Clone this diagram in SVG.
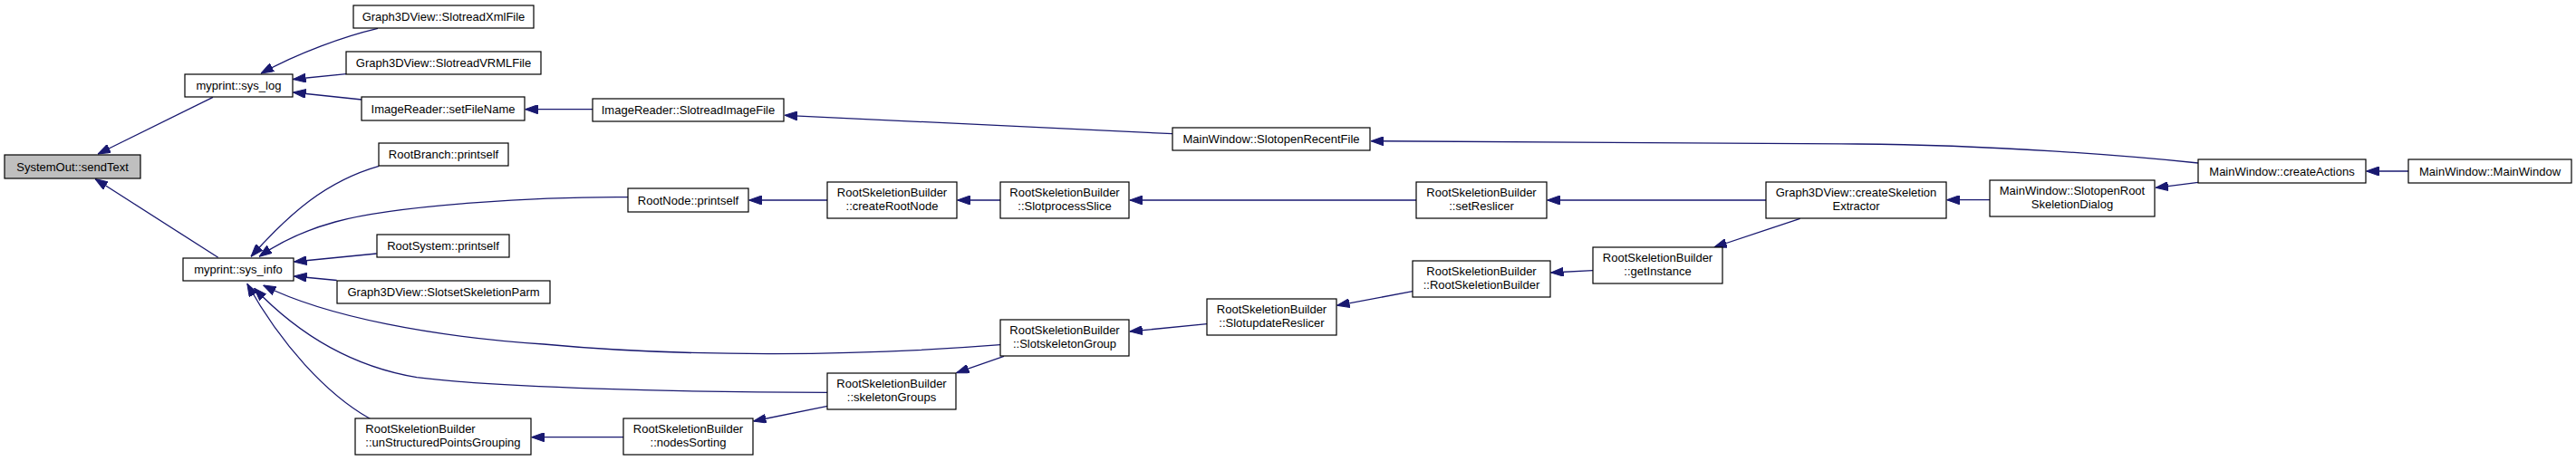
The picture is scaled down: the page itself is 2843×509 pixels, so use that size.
<svg xmlns="http://www.w3.org/2000/svg" width="2843" height="509" viewBox="0 0 2843 509">
<style>
.n rect{fill:#fff;stroke:#000;stroke-width:1.2}
.n.root rect{fill:#bfbfbf}
.n text{font-family:"Liberation Sans",Arial,sans-serif;font-size:13px;fill:#000;text-anchor:middle}
.n text.l{text-anchor:start}
#edges path{fill:none;stroke:#191970;stroke-width:1.3;marker-end:url(#ah)}
</style>
<defs>
<marker id="ah" viewBox="0 0 14 10" refX="14" refY="5" markerWidth="14" markerHeight="10" markerUnits="userSpaceOnUse" orient="auto">
<path d="M0,0 L14,5 L0,10 Z" fill="#191970" stroke="#191970" stroke-width="1"/>
</marker>
</defs>
<rect width="2843" height="509" fill="#fff"/>
<g id="edges">
<path d="M235,107.3 L108,170"/>
<path d="M240.7,284.3 L105,197.5"/>
<path d="M417,31.3 C380,40 330,58 288,81"/>
<path d="M382,81.7 L323.5,87.5"/>
<path d="M399.3,110 L323.5,102"/>
<path d="M654,120.7 L579.5,120.7"/>
<path d="M1294,147.7 L866,127.3"/>
<path d="M2426,180 C2350,172 2200,160 2050,159 L1513,155.7"/>
<path d="M2658,189 L2611.5,189"/>
<path d="M2426,201.3 L2379,207.3"/>
<path d="M2196,220.7 L2148.5,220.7"/>
<path d="M1949,221 L1707.5,221"/>
<path d="M1986.7,241.3 L1891.7,273"/>
<path d="M1758,298.7 L1711.5,301"/>
<path d="M1559,321.7 L1475.5,337.3"/>
<path d="M1332,357.7 L1246.8,366"/>
<path d="M1563,221 L1246.8,221"/>
<path d="M1104,221 L1056.5,221"/>
<path d="M913,221 L826.5,221"/>
<path d="M693,217.7 C600,217 440,226 370,245 C330,256 305,270 286,283.3"/>
<path d="M418.3,183.3 C360,200 320,235 277,283.3"/>
<path d="M415.7,280 L324.5,289"/>
<path d="M371.7,309.5 L324.5,305"/>
<path d="M1104,380.7 C950,393 760,395 600,380 C480,372 360,350 290.6,315"/>
<path d="M913,433.3 C750,433 550,428 460,416.7 C390,405 330,370 280.7,318.3"/>
<path d="M408.3,462.3 C360,435 310,380 272.8,313.3"/>
<path d="M688.3,482.7 L586.5,482.7"/>
<path d="M913.4,448.3 L831.5,465"/>
<path d="M1108,393.3 L1055.5,411.7"/>
</g>
<g id="n_sendText" class="n root"><rect x="5" y="171" width="150" height="26"/><text x="80" y="188.5">SystemOut::sendText</text></g>
<g id="n_sys_log" class="n"><rect x="204" y="82" width="119" height="25"/><text x="263.5" y="99">myprint::sys_log</text></g>
<g id="n_sys_info" class="n"><rect x="202" y="285" width="122" height="25"/><text x="263" y="302">myprint::sys_info</text></g>
<g id="n_readXml" class="n"><rect x="390" y="6" width="199" height="25"/><text x="489.5" y="23">Graph3DView::SlotreadXmlFile</text></g>
<g id="n_readVRML" class="n"><rect x="382" y="57" width="215" height="25"/><text x="489.5" y="74">Graph3DView::SlotreadVRMLFile</text></g>
<g id="n_setFileName" class="n"><rect x="399" y="107" width="180" height="26"/><text x="489" y="124.5">ImageReader::setFileName</text></g>
<g id="n_readImage" class="n"><rect x="654" y="109" width="211" height="25"/><text x="759.5" y="126">ImageReader::SlotreadImageFile</text></g>
<g id="n_branchPrint" class="n"><rect x="418" y="158" width="143" height="25"/><text x="489.5" y="175">RootBranch::printself</text></g>
<g id="n_nodePrint" class="n"><rect x="693" y="208" width="133" height="26"/><text x="759.5" y="225.5">RootNode::printself</text></g>
<g id="n_systemPrint" class="n"><rect x="416" y="259" width="146" height="25"/><text x="489" y="276">RootSystem::printself</text></g>
<g id="n_setParm" class="n"><rect x="372" y="310" width="235" height="25"/><text x="489.5" y="327">Graph3DView::SlotsetSkeletionParm</text></g>
<g id="n_unStructured" class="n"><rect x="392" y="462" width="194" height="40"/><text class="l" x="403.3" y="478">RootSkeletionBuilder</text><text class="l" x="403.3" y="492.8">::unStructuredPointsGrouping</text></g>
<g id="n_nodesSorting" class="n"><rect x="688" y="462" width="143" height="40"/><text x="759.5" y="478">RootSkeletionBuilder</text><text x="759.5" y="492.8">::nodesSorting</text></g>
<g id="n_skeletonGroups" class="n"><rect x="913" y="412" width="142" height="40"/><text x="984" y="428">RootSkeletionBuilder</text><text x="984" y="442.8">::skeletonGroups</text></g>
<g id="n_slotSkeletonGroup" class="n"><rect x="1104" y="353" width="142" height="40"/><text x="1175" y="369">RootSkeletionBuilder</text><text x="1175" y="383.8">::SlotskeletonGroup</text></g>
<g id="n_createRootNode" class="n"><rect x="913" y="201" width="143" height="40"/><text x="984.5" y="217">RootSkeletionBuilder</text><text x="984.5" y="231.8">::createRootNode</text></g>
<g id="n_processSlice" class="n"><rect x="1104" y="201" width="142" height="40"/><text x="1175" y="217">RootSkeletionBuilder</text><text x="1175" y="231.8">::SlotprocessSlice</text></g>
<g id="n_openRecent" class="n"><rect x="1294" y="141" width="218" height="25"/><text x="1403" y="158">MainWindow::SlotopenRecentFile</text></g>
<g id="n_setReslicer" class="n"><rect x="1563" y="201" width="144" height="40"/><text x="1635" y="217">RootSkeletionBuilder</text><text x="1635" y="231.8">::setReslicer</text></g>
<g id="n_updateReslicer" class="n"><rect x="1332" y="330" width="143" height="40"/><text x="1403.5" y="346">RootSkeletionBuilder</text><text x="1403.5" y="360.8">::SlotupdateReslicer</text></g>
<g id="n_ctor" class="n"><rect x="1559" y="288" width="152" height="40"/><text x="1635" y="304">RootSkeletionBuilder</text><text x="1635" y="318.8">::RootSkeletionBuilder</text></g>
<g id="n_getInstance" class="n"><rect x="1758" y="273" width="143" height="40"/><text x="1829.5" y="289">RootSkeletionBuilder</text><text x="1829.5" y="303.8">::getInstance</text></g>
<g id="n_createExtractor" class="n"><rect x="1949" y="201" width="199" height="40"/><text x="2048.5" y="217">Graph3DView::createSkeletion</text><text x="2048.5" y="231.8">Extractor</text></g>
<g id="n_openRootDialog" class="n"><rect x="2196" y="199" width="182" height="40"/><text x="2287" y="215">MainWindow::SlotopenRoot</text><text x="2287" y="229.8">SkeletionDialog</text></g>
<g id="n_createActions" class="n"><rect x="2426" y="176" width="185" height="26"/><text x="2518.5" y="193.5">MainWindow::createActions</text></g>
<g id="n_mainWindow" class="n"><rect x="2658" y="176" width="180" height="26"/><text x="2748" y="193.5">MainWindow::MainWindow</text></g>
</svg>
